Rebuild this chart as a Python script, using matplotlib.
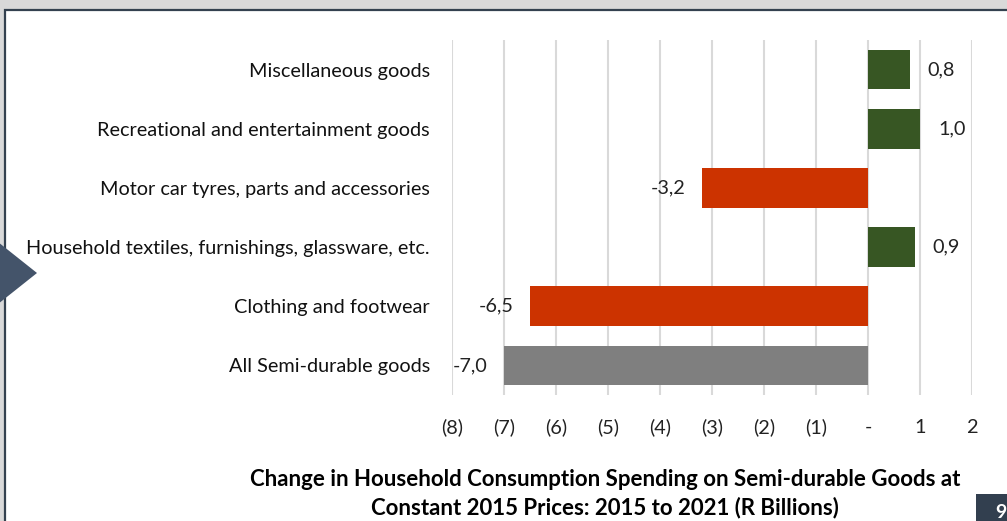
import matplotlib
matplotlib.use("Agg")
import matplotlib.pyplot as plt
from matplotlib.patches import Rectangle, Polygon

# --------------------------- DATA ---------------------------

categories = [
    "All Semi-durable goods",
    "Clothing and footwear",
    "Household textiles, furnishings, glassware, etc.",
    "Motor car tyres, parts and accessories",
    "Recreational and entertainment goods",
    "Miscellaneous goods",
]
values = [-7.0, -6.5, 0.9, -3.2, 1.0, 0.8]
tick_values = [-8, -7, -6, -5, -4, -3, -2, -1, 0, 1, 2]
tick_labels = ["(8)", "(7)", "(6)", "(5)", "(4)", "(3)", "(2)", "(1)", "-", "1", "2"]
title_lines = [
    "Change in Household Consumption Spending on Semi-durable Goods at",
    "Constant 2015 Prices: 2015 to 2021 (R Billions)",
]
page_number = "9"

# --------------------------- STYLE ---------------------------

W, H = 1007, 521
GREEN = "#375623"
RED = "#cc3300"
GREY = "#7f7f7f"
SLATE = "#44546a"
FS = 14.3
plt.rcParams["font.family"] = ["Lato", "DejaVu Sans"]


def px(x, y):
    """Pixel position -> figure fraction."""
    return x / W, 1 - y / H


def bar_color(cat, val):
    if cat.startswith("All"):
        return GREY
    return GREEN if val >= 0 else RED


fig = plt.figure(figsize=(W / 100, H / 100), dpi=100, facecolor="#d9d9d9")

# slide frame
fig.patches.append(Rectangle(px(5, 530), (W + 10) / W, 520 / H, transform=fig.transFigure,
                             facecolor="white", edgecolor="#34414f", linewidth=1.6, zorder=0))
fig.patches.append(Polygon([px(-2, 242), px(37, 273), px(-2, 304)], closed=True,
                           transform=fig.transFigure, facecolor=SLATE, edgecolor="none", zorder=1))
fig.patches.append(Rectangle(px(976, 521), 40 / W, 27 / H, transform=fig.transFigure,
                             facecolor="#323f4f", edgecolor="none", zorder=1))
fig.text(*px(1001, 513), page_number, color="white", fontsize=14, fontweight="bold",
         ha="center", va="center")

# --------------------------- CHART ---------------------------

left, top, right, bottom = px(452, 40)[0], px(452, 40)[1], px(972, 395)[0], px(972, 395)[1]
ax = fig.add_axes([left, bottom, right - left, top - bottom])
ax.set_zorder(2)
ax.set_facecolor("none")

ypos = list(range(len(categories)))
colors = [bar_color(c, v) for c, v in zip(categories, values)]
ax.barh(ypos, values, height=0.67, color=colors, zorder=3)

for y, v in zip(ypos, values):
    txt = f"{v:.1f}".replace(".", ",")
    if v >= 0:
        ax.annotate(txt, (v, y), xytext=(18, 0), textcoords="offset pixels",
                    ha="left", va="center", fontsize=FS, color="#222222")
    else:
        ax.annotate(txt, (v, y), xytext=(-16, 0), textcoords="offset pixels",
                    ha="right", va="center", fontsize=FS, color="#222222")

ax.set_xlim(-8, 2)
ax.set_ylim(-0.5, len(categories) - 0.5)
ax.set_xticks(tick_values)
ax.set_xticklabels(tick_labels, fontsize=FS, color="#222222")
ax.set_yticks(ypos)
ax.set_yticklabels(categories, fontsize=FS, color="#111111")
ax.tick_params(axis="both", length=0)
ax.tick_params(axis="x", pad=17)
ax.tick_params(axis="y", pad=16)
ax.grid(axis="x", color="#d9d9d9", linewidth=1.5, zorder=0)
for s in ax.spines.values():
    s.set_visible(False)

fig.text(*px(605, 480), title_lines[0], fontsize=16, fontweight="bold",
         ha="center", va="center", color="black")
fig.text(*px(605, 508), title_lines[1], fontsize=16, fontweight="bold",
         ha="center", va="center", color="black")

fig.savefig("out.png", dpi=100, facecolor=fig.get_facecolor())
